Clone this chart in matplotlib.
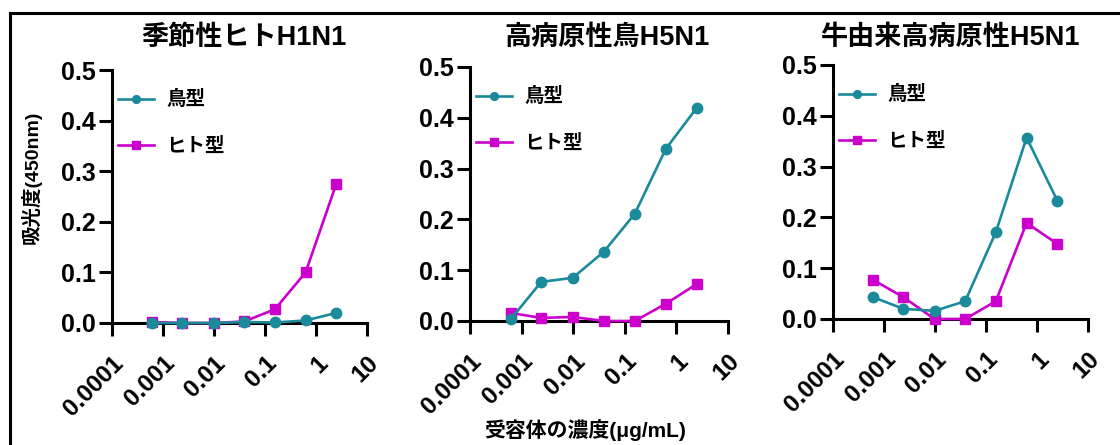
import matplotlib
matplotlib.use("Agg")
import matplotlib.pyplot as plt
from matplotlib.lines import Line2D
import numpy as np

plt.rcParams['font.family'] = ['Liberation Sans', 'Noto Sans CJK JP', 'DejaVu Sans']

# ---- data ----
conc = [0.00061, 0.0024, 0.0098, 0.039, 0.156, 0.625, 2.5]  # µg/mL (4-fold dilution)
titles = ["季節性ヒトH1N1", "高病原性鳥H5N1", "牛由来高病原性H5N1"]
series_names = ["鳥型", "ヒト型"]

h1n1_avian = [0.000, 0.000, 0.000, 0.002, 0.001, 0.005, 0.020]
h1n1_human = [0.002, 0.000, 0.000, 0.003, 0.027, 0.100, 0.275]

hpai_avian = [0.003, 0.077, 0.085, 0.136, 0.211, 0.339, 0.420]
hpai_human = [0.016, 0.006, 0.008, 0.000, 0.000, 0.034, 0.073]

cow_avian = [0.043, 0.020, 0.016, 0.035, 0.171, 0.357, 0.233]
cow_human = [0.077, 0.043, 0.000, 0.000, 0.035, 0.189, 0.148]

xticks = [1e-4, 1e-3, 1e-2, 1e-1, 1, 10]
xticklabels = ["0.0001", "0.001", "0.01", "0.1", "1", "10"]
yticks = [0.0, 0.1, 0.2, 0.3, 0.4, 0.5]

panels = [(h1n1_avian, h1n1_human), (hpai_avian, hpai_human), (cow_avian, cow_human)]

TEAL = "#1b8a9b"
MAGENTA = "#cc00cc"

W, H = 1120, 445
fig = plt.figure(figsize=(W / 100, H / 100), dpi=100)

# axes boxes in pixels: (left, right, y_top(0.5), y_bottom(0.0))
boxes = [(112, 367, 70, 323), (470, 728, 67, 321), (833, 1088, 65, 319)]
title_cx = [244, 607, 950]  # pixel centres of titles
TITLE_Y = 38

axes = []
for i, ((l, r, t, b), (av, hu), title) in enumerate(zip(boxes, panels, titles)):
    ax = fig.add_axes([l / W, 1 - b / H, (r - l) / W, (b - t) / H])
    axes.append(ax)
    ax.plot(conc, av, color=TEAL, marker='o', markersize=7.5, lw=1.9,
            label=series_names[0], zorder=4, clip_on=False)
    ax.plot(conc, hu, color=MAGENTA, marker='s', markersize=7.5, lw=1.9,
            label=series_names[1], zorder=3, clip_on=False)
    ax.set_xscale('log')
    ax.set_xlim(1e-4, 10)
    ax.set_ylim(0, 0.5)
    ax.set_xticks(xticks)
    ax.set_xticklabels(xticklabels, rotation=45, ha='right', va='top',
                       rotation_mode='anchor', fontsize=17.5, fontweight='bold')
    ax.xaxis.set_minor_locator(matplotlib.ticker.NullLocator())
    ax.set_yticks(yticks)
    ax.set_yticklabels([f"{v:.1f}" for v in yticks], fontsize=18, fontweight='bold')
    for s in ['top', 'right']:
        ax.spines[s].set_visible(False)
    for s in ['left', 'bottom']:
        ax.spines[s].set_linewidth(2.2)
    ax.tick_params(axis='both', direction='out', length=9.5, width=2.2, pad=2)
    ax.tick_params(axis='x', pad=11)
    ax.set_title(title, fontsize=19.5, fontweight='bold', pad=0,
                 x=(title_cx[i] - l) / (r - l),
                 y=1 + (t - TITLE_Y) / (b - t), va='center')
    ax.patch.set_visible(False)
    ax.legend(loc='upper left', bbox_to_anchor=(0.025, 0.92), frameon=False,
              handlelength=1.85, handletextpad=0.6,
              labelspacing=1.45, borderaxespad=0, borderpad=0,
              markerscale=0.75, prop={'weight': 'bold', 'size': 14})

fig.text(31 / W, 1 - 177 / H, "吸光度(450nm)", rotation=90, ha='center', va='center',
         fontsize=14, fontweight='bold')
fig.text(585 / W, 1 - 430 / H, "受容体の濃度(μg/mL)", ha='center', va='center',
         fontsize=15, fontweight='bold')

# outer frame (top and left edges visible)
fig.add_artist(Line2D([10 / W, 1.0], [1 - 13 / H, 1 - 13 / H], color='black', lw=2.2))
fig.add_artist(Line2D([10 / W, 10 / W], [0.0, 1 - 13 / H], color='black', lw=2.2))

fig.savefig("out.png", dpi=100)
